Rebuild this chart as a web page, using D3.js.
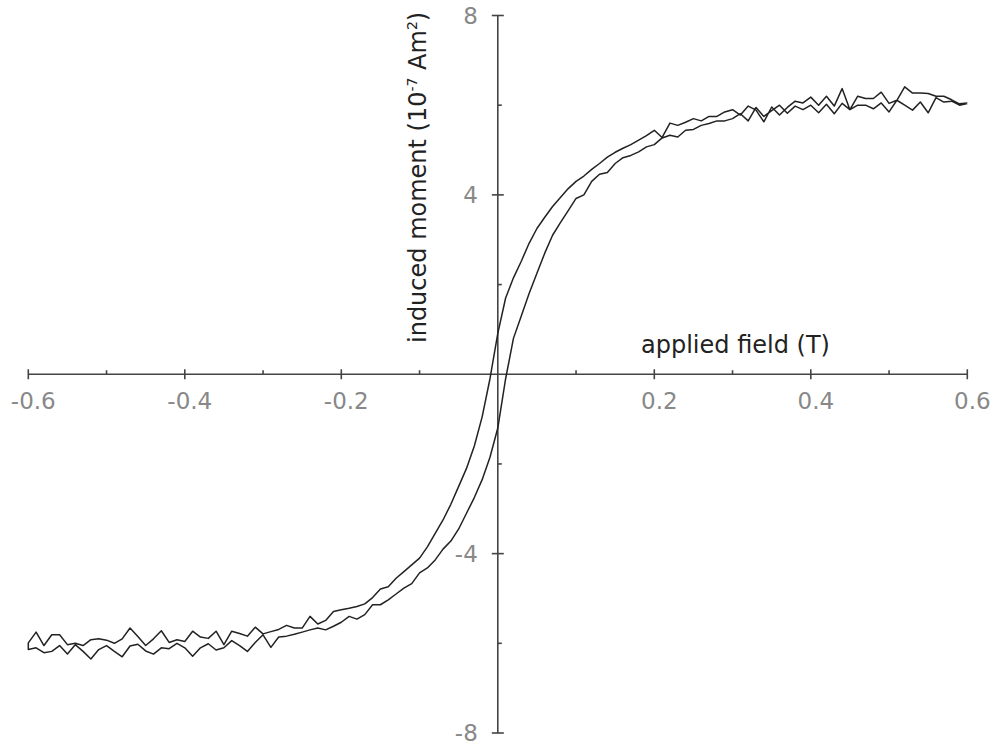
<!DOCTYPE html>
<html>
<head>
<meta charset="utf-8">
<script src="https://cdn.jsdelivr.net/npm/d3@7"></script>
<style>
  body { margin: 0; background: #fff; }
  svg { display: block; font-family: "DejaVu Sans", Verdana, sans-serif; }
</style>
</head>
<body>
<svg id="chart" width="994" height="744"></svg>
<script>
// field values, -0.6 .. 0.6 T in 0.01 steps
const fields = d3.range(121).map(i => +(-0.6 + i * 0.01).toFixed(2));

// descending branch (upper-left curve), listed from -0.6 to 0.6
const downBranch = [
  -5.99, -5.75, -6.05, -5.81, -5.81, -6.03, -6.00, -6.05, -5.92, -5.90,
  -5.93, -6.00, -5.90, -5.66, -5.85, -6.05, -5.90, -5.72, -5.98, -5.92,
  -5.96, -5.73, -5.86, -5.89, -5.73, -6.03, -5.73, -5.78, -5.84, -5.64,
  -5.79, -5.74, -5.69, -5.60, -5.66, -5.66, -5.40, -5.57, -5.49, -5.29,
  -5.25, -5.22, -5.18, -5.12, -4.98, -4.79, -4.74, -4.55, -4.40, -4.25,
  -4.10, -3.85, -3.55, -3.25, -2.90, -2.50, -2.10, -1.60, -0.95, -0.10,
   0.91,  1.70,  2.15,  2.52,  2.92,  3.25,  3.50,  3.74,  3.94,  4.14,
   4.30,  4.42,  4.57,  4.70,  4.84,  4.95,  5.04,  5.12,  5.22,  5.32,
   5.44,  5.28,  5.60,  5.55,  5.62,  5.70,  5.65,  5.75,  5.75,  5.85,
   5.90,  5.78,  5.98,  5.89,  5.63,  5.96,  5.78,  5.95,  6.09,  6.05,
   6.18,  6.00,  6.20,  5.98,  6.37,  5.90,  6.20,  6.15,  6.15,  6.29,
   6.04,  6.11,  6.41,  6.27,  6.27,  6.26,  6.20,  6.20,  6.12,  6.03,
   6.05
];

// ascending branch (lower-right curve), -0.6 .. 0.6
const upBranch = [
  -6.14, -6.10, -6.21, -6.18, -6.05, -6.24, -6.03, -6.18, -6.35, -6.14,
  -6.05, -6.18, -6.30, -6.06, -6.02, -6.17, -6.24, -6.10, -6.12, -6.00,
  -6.10, -6.29, -6.10, -6.01, -6.15, -6.10, -5.94, -6.05, -6.18, -5.98,
  -5.81, -6.09, -5.86, -5.84, -5.80, -5.75, -5.70, -5.66, -5.70, -5.62,
  -5.53, -5.40, -5.46, -5.36, -5.14, -5.14, -5.03, -4.90, -4.77, -4.67,
  -4.43, -4.32, -4.14, -3.90, -3.72, -3.45, -3.10, -2.75, -2.35, -1.85,
  -1.20, -0.10,  0.80,  1.30,  1.80,  2.25,  2.70,  3.10,  3.38,  3.65,
   3.92,  4.00,  4.30,  4.46,  4.50,  4.70,  4.83,  4.88,  4.96,  5.07,
   5.12,  5.27,  5.33,  5.29,  5.44,  5.46,  5.55,  5.59,  5.65,  5.65,
   5.70,  5.81,  5.65,  5.95,  5.75,  5.88,  6.00,  5.82,  5.98,  5.90,
   6.00,  5.83,  6.02,  5.81,  6.04,  5.90,  6.00,  6.00,  5.92,  6.05,
   5.85,  6.11,  6.00,  5.89,  6.07,  5.83,  6.17,  6.07,  6.09,  6.00,
   6.04
];

const xMajor = [-0.6, -0.4, -0.2, 0.2, 0.4, 0.6];
const xMinor = [-0.5, -0.3, -0.1, 0.1, 0.3, 0.5];
const yMajor = [-8, -4, 4, 8];
const yMinor = [-6, -2, 2, 6];

// plain hyphen for negatives, like the original
const fmtX = d => d.toFixed(1);
const fmtY = d => String(d);

const svg = d3.select('#chart');

const x = d3.scaleLinear().domain([-0.6, 0.6]).range([28.3, 967.3]);
const y = d3.scaleLinear().domain([-8, 8]).range([733, 15.5]);

const axisColor = '#444';

// x axis through y = 0
const gx = svg.append('g').attr('transform', 'translate(0,' + y(0) + ')');
gx.append('line')
  .attr('x1', x(-0.6)).attr('x2', x(0.6))
  .attr('stroke', axisColor).attr('stroke-width', 1.6);
gx.selectAll('.major').data(xMajor).enter().append('line')
  .attr('x1', d => x(d)).attr('x2', d => x(d))
  .attr('y1', -5).attr('y2', 5)
  .attr('stroke', axisColor).attr('stroke-width', 1.6);
gx.selectAll('.minor').data(xMinor).enter().append('line')
  .attr('x1', d => x(d)).attr('x2', d => x(d))
  .attr('y1', -4).attr('y2', 0)
  .attr('stroke', axisColor).attr('stroke-width', 1.6);
gx.selectAll('text').data(xMajor).enter().append('text')
  .attr('x', d => x(d) + 5)
  .attr('y', 35)
  .attr('text-anchor', 'middle')
  .attr('fill', '#888')
  .style('font-size', '23px')
  .text(fmtX);

// y axis through x = 0
const gy = svg.append('g').attr('transform', 'translate(' + x(0) + ',0)');
gy.append('line')
  .attr('y1', y(-8)).attr('y2', y(8))
  .attr('stroke', axisColor).attr('stroke-width', 1.6);
gy.selectAll('.major').data(yMajor).enter().append('line')
  .attr('y1', d => y(d)).attr('y2', d => y(d))
  .attr('x1', -6).attr('x2', 6)
  .attr('stroke', axisColor).attr('stroke-width', 1.6);
gy.selectAll('.minor').data(yMinor).enter().append('line')
  .attr('y1', d => y(d)).attr('y2', d => y(d))
  .attr('x1', 0).attr('x2', 4)
  .attr('stroke', axisColor).attr('stroke-width', 1.6);
gy.selectAll('text').data(yMajor).enter().append('text')
  .attr('x', -20)
  .attr('y', d => y(d) + 8)
  .attr('text-anchor', 'end')
  .attr('fill', '#888')
  .style('font-size', '23px')
  .text(fmtY);

// axis titles
svg.append('text')
  .attr('x', 641)
  .attr('y', 353)
  .attr('fill', '#222')
  .style('font-size', '24px')
  .text('applied field (T)');

const yt = svg.append('text')
  .attr('transform', 'translate(426,343) rotate(-90)')
  .attr('fill', '#222')
  .style('font-size', '24px');
yt.append('tspan').text('induced moment (10');
yt.append('tspan').attr('dy', -9).style('font-size', '14px').text('-7');
yt.append('tspan').attr('dy', 9).text(' Am');
yt.append('tspan').attr('dy', -9).style('font-size', '14px').text('2');
yt.append('tspan').attr('dy', 9).text(')');

// hysteresis loop: descending branch then ascending branch
const loop = [];
for (let i = fields.length - 1; i >= 0; i -= 1) loop.push([fields[i], downBranch[i]]);
for (let i = 0; i < fields.length; i += 1) loop.push([fields[i], upBranch[i]]);

svg.append('path')
  .datum(loop)
  .attr('fill', 'none')
  .attr('stroke', '#222')
  .attr('stroke-width', 1.5)
  .attr('stroke-linejoin', 'round')
  .attr('d', d3.line().x(d => x(d[0])).y(d => y(d[1])));
</script>
</body>
</html>
